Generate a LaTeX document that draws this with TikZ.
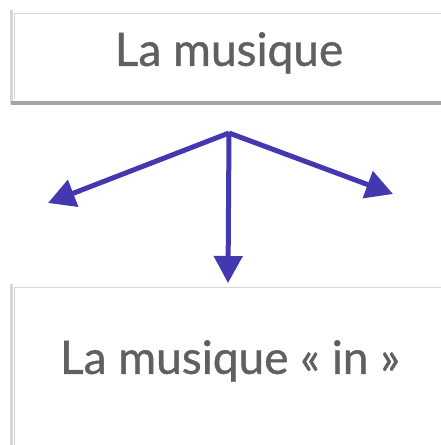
\documentclass[tikz,border=0pt]{standalone}
\usepackage{fontspec}
\setmainfont{Lato}[FakeBold=0.9]
\usetikzlibrary{arrows.meta}
\definecolor{arrowblue}{RGB}{67,56,174}
\definecolor{txtgray}{RGB}{96,96,96}
\definecolor{edgegray}{RGB}{215,215,215}
\definecolor{shadowgray}{RGB}{165,165,165}
\tikzset{
  boxedge/.style={draw=edgegray, line width=1pt},
  sideshadow/.style={draw=edgegray, line width=3pt},
  bottomshadow/.style={draw=shadowgray, line width=3.5pt},
  label/.style={text=txtgray, font=\fontsize{46}{52}\selectfont, inner sep=0pt},
  link/.style={draw=arrowblue, line width=5pt, -{Triangle[length=27pt,width=28pt]}}
}
\begin{document}
\begin{tikzpicture}[x=1pt,y=-1pt]
\useasboundingbox (0,0) rectangle (441,445);
% top box
\draw[sideshadow] (11,10) -- (11,104);
\draw[bottomshadow] (11,103) -- (441,103);
\draw[boxedge] (441,13) -- (14,13) -- (14,99);
\node[label] (top) at (229,53) {La musique};
% bottom box
\draw[sideshadow] (11,284) -- (11,445);
\draw[boxedge] (441,287) -- (14,287) -- (14,445);
\node[label] (bot) at (230,361) {La musique « in »};
% arrows
\coordinate (o) at (229,133);
\coordinate (l) at (48,203);
\coordinate (r) at (393,194);
\coordinate (d) at (228,283);
\draw[link] (o) -- (l);
\draw[link] (o) -- (r);
\draw[link] (o) -- (d);
\end{tikzpicture}
\end{document}
